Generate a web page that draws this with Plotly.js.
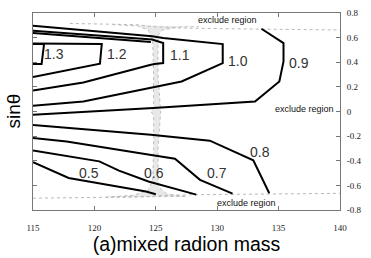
<!DOCTYPE html>
<html><head><meta charset="utf-8">
<script src="https://cdn.plot.ly/plotly-3.0.1.min.js"></script>
<style>html,body{margin:0;padding:0;background:#fff}#chart{width:371px;height:258px}</style>
</head><body><div id="chart"></div>
<script>
// axis ticks
const xTickVals = [115, 120, 125, 130, 135, 140];
const yTickVals = [-0.8, -0.6, -0.4, -0.2, 0, 0.2, 0.4, 0.6, 0.8];
const yTickText = ["-0.8", "-0.6", "-0.4", "-0.2", "0", "0.2", "0.4", "0.6", "0.8"];

// contour lines
const c13x = [115, 115.9, 115.7, 115];
const c13y = [0.548, 0.548, 0.385, 0.385];

const c12x = [115, 120.6, 120.45, 115];
const c12y = [0.552, 0.548, 0.388, 0.28];
const c12ux = [115, 124.6];
const c12uy = [0.637, 0.565];

const c11x = [115, 124.7, 125.6, 125.6, 124.9, 124.6, 119.1, 115];
const c11y = [0.656, 0.585, 0.556, 0.393, 0.385, 0.38, 0.236, 0.171];

const c10x = [115, 124.7, 125.6, 130.45, 130.45, 127.1, 119.1, 115];
const c10y = [0.697, 0.612, 0.597, 0.548, 0.393, 0.244, 0.081, 0.046];

const c09x = [115, 124.8, 133.08, 135.06, 135.4, 135.4, 133.6];
const c09y = [-0.027, 0.028, 0.081, 0.244, 0.407, 0.556, 0.672];

const c08x = [115, 124.6, 129.4, 132.94, 134.24];
const c08y = [-0.11, -0.189, -0.237, -0.396, -0.664];

const c07x = [115, 117.74, 124.5, 126.56, 128.6, 131.25];
const c07y = [-0.216, -0.244, -0.352, -0.383, -0.555, -0.667];

const c06x = [115, 120.4, 122.0, 124.4, 128.3];
const c06y = [-0.317, -0.405, -0.48, -0.569, -0.675];

const c05x = [115, 117.9, 124.2, 125];
const c05y = [-0.412, -0.54, -0.65, -0.672];

// contour labels
const labText = ["1.3", "1.2", "1.1", "1.0", "0.9", "0.8", "0.7", "0.6", "0.5"];
const labX = [116.75, 121.8, 127.0, 131.7, 136.7, 133.45, 130.0, 124.85, 119.6];
const labY = [0.467, 0.467, 0.461, 0.41, 0.393, -0.325, -0.5, -0.496, -0.496];

// excluded-region boundaries
const exTopX = [118, 121, 123.5, 124.6, 125.4, 127, 131, 135, 140];
const exTopY = [0.715, 0.712, 0.705, 0.69, 0.685, 0.678, 0.672, 0.668, 0.662];
const exBotX = [115, 120, 123, 124.5, 125.5, 128, 132, 136, 140];
const exBotY = [-0.704, -0.7, -0.695, -0.69, -0.682, -0.676, -0.672, -0.668, -0.665];

// noisy vertical band at 125
const spikeX = [121.5, 123.5, 124.4, 124.75, 124.82, 124.82, 124.6, 124.82, 124.82, 124.75, 124.4, 123.2, 121.0,
                127.5, 125.9, 125.3, 125.2, 125.18, 125.4, 125.18, 125.18, 125.2, 125.5, 126.8, 128.5];
const spikeY = [0.705, 0.695, 0.66, 0.56, 0.3, 0.03, 0.0, -0.03, -0.3, -0.55, -0.64, -0.68, -0.695,
                -0.69, -0.67, -0.62, -0.55, -0.3, 0.0, 0.3, 0.55, 0.62, 0.66, 0.685, 0.69];

const excludeText = ["exclude region", "exclude region", "exclude region"];
const excludeX = [130.8, 139.7, 132.4];
const excludeY = [0.745, 0.022, -0.745];

const traces = [];
traces.push({x: spikeX, y: spikeY, mode: 'lines', fill: 'toself', fillcolor: 'rgba(205,205,205,0.45)',
  line: {color: '#a8a8a8', width: 0.7, dash: 'dot'}, hoverinfo: 'skip'});
traces.push({x: exTopX, y: exTopY, mode: 'lines', line: {color: '#b8b8b8', width: 1, dash: 'dot'}});
traces.push({x: exBotX, y: exBotY, mode: 'lines', line: {color: '#b8b8b8', width: 1, dash: 'dot'}});
const lines = [[c13x, c13y], [c12x, c12y], [c12ux, c12uy], [c11x, c11y], [c10x, c10y],
               [c09x, c09y], [c08x, c08y], [c07x, c07y], [c06x, c06y], [c05x, c05y]];
lines.forEach(([x, y]) => traces.push({x: x, y: y, mode: 'lines', line: {color: '#000', width: 2}}));

const annotations = [];
labText.forEach((t, i) => annotations.push({x: labX[i], y: labY[i], text: t, showarrow: false,
  font: {family: 'Liberation Sans, Arial', size: 14, color: '#333'}}));
excludeText.forEach((t, i) => annotations.push({x: excludeX[i], y: excludeY[i], text: t, showarrow: false,
  xanchor: i === 1 ? 'right' : 'center', font: {family: 'Liberation Sans, Arial', size: 9, color: '#111'}}));
annotations.push({xref: 'paper', yref: 'paper', x: -0.065, y: 0.5, text: 'sinθ', textangle: -90, showarrow: false,
  xanchor: 'center', yanchor: 'middle', font: {family: 'Liberation Sans, Arial', size: 19, color: '#000'}});

const layout = {
  width: 371, height: 258,
  margin: {l: 33, r: 31, t: 13, b: 48},
  paper_bgcolor: '#fff', plot_bgcolor: '#fff',
  showlegend: false,
  xaxis: {range: [115, 140], tickmode: 'array', tickvals: xTickVals, ticks: 'inside', ticklen: 4,
    tickcolor: '#777', showline: true, linecolor: '#777', linewidth: 1, mirror: 'ticks', showgrid: false, zeroline: false,
    ticklabelstandoff: 9,
    tickfont: {family: 'Liberation Serif, Times New Roman', size: 9, color: '#222'},
    title: {text: '(a)mixed radion mass', font: {family: 'Liberation Sans, Arial', size: 19.5, color: '#000'}, standoff: 2}},
  yaxis: {range: [-0.8, 0.8], side: 'right', tickmode: 'array', tickvals: yTickVals, ticktext: yTickText,
    ticks: 'inside', ticklen: 4, tickcolor: '#777', showline: true, linecolor: '#777', linewidth: 1, mirror: 'ticks',
    showgrid: false, zeroline: false, ticklabelstandoff: 4,
    tickfont: {family: 'Liberation Serif, Times New Roman', size: 9, color: '#222'}},
  annotations: annotations
};
Plotly.newPlot('chart', traces, layout, {displayModeBar: false, staticPlot: true});
</script></body></html>
